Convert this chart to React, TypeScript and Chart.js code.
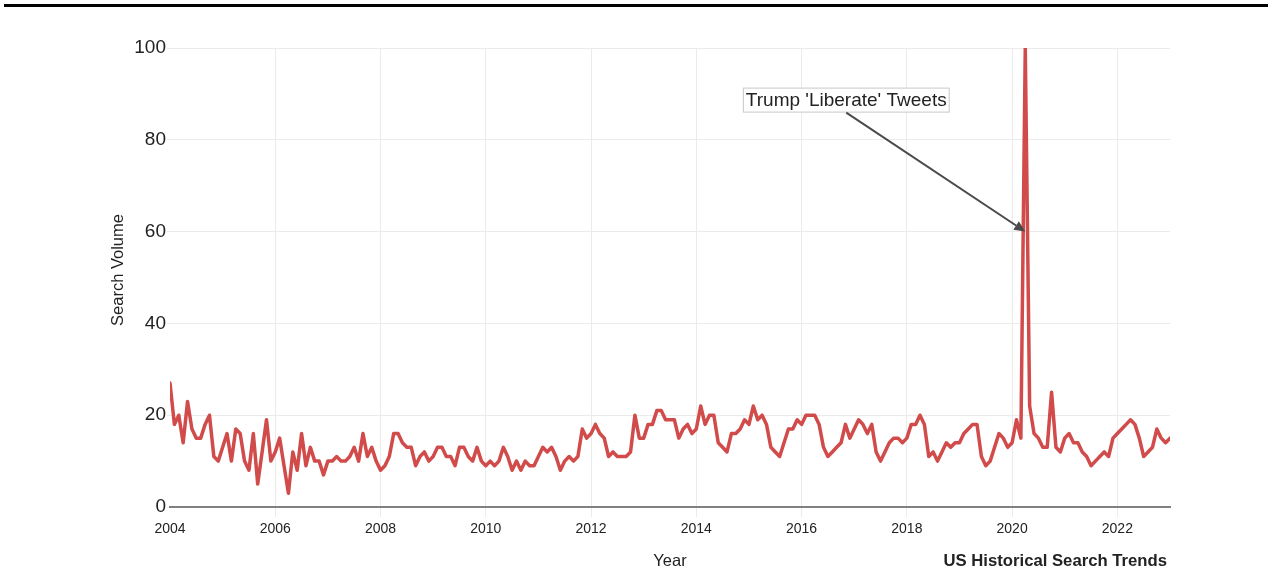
import React, { useEffect, useRef } from "react";
import { Chart, registerables } from "chart.js";

Chart.register(...registerables);

// ---- Data: monthly US search volume (Jan 2004 – Jan 2023) ----
const START_YEAR = 2004;
const vol2004 = [27, 18, 20, 14, 23, 17, 15, 15, 18, 20, 11, 10];
const vol2005 = [13, 16, 10, 17, 16, 10, 8, 16, 5, 12, 19, 10];
const vol2006 = [12, 15, 9, 3, 12, 8, 16, 9, 13, 10, 10, 7];
const vol2007 = [10, 10, 11, 10, 10, 11, 13, 10, 16, 11, 13, 10];
const vol2008 = [8, 9, 11, 16, 16, 14, 13, 13, 9, 11, 12, 10];
const vol2009 = [11, 13, 13, 11, 11, 9, 13, 13, 11, 10, 13, 10];
const vol2010 = [9, 10, 9, 10, 13, 11, 8, 10, 8, 10, 9, 9];
const vol2011 = [11, 13, 12, 13, 11, 8, 10, 11, 10, 11, 17, 15];
const vol2012 = [16, 18, 16, 15, 11, 12, 11, 11, 11, 12, 20, 15];
const vol2013 = [15, 18, 18, 21, 21, 19, 19, 19, 15, 17, 18, 16];
const vol2014 = [17, 22, 18, 20, 20, 14, 13, 12, 16, 16, 17, 19];
const vol2015 = [18, 22, 19, 20, 18, 13, 12, 11, 14, 17, 17, 19];
const vol2016 = [18, 20, 20, 20, 18, 13, 11, 12, 13, 14, 18, 15];
const vol2017 = [17, 19, 18, 16, 18, 12, 10, 12, 14, 15, 15, 14];
const vol2018 = [15, 18, 18, 20, 18, 11, 12, 10, 12, 14, 13, 14];
const vol2019 = [14, 16, 17, 18, 18, 11, 9, 10, 13, 16, 15, 13];
const vol2020 = [14, 19, 15, 100, 22, 16, 15, 13, 13, 25, 13, 12];
const vol2021 = [15, 16, 14, 14, 12, 11, 9, 10, 11, 12, 11, 15];
const vol2022 = [16, 17, 18, 19, 18, 15, 11, 12, 13, 17, 15, 14];
const vol2023 = [15];

const yearlyVolumes = [
  vol2004, vol2005, vol2006, vol2007, vol2008, vol2009, vol2010,
  vol2011, vol2012, vol2013, vol2014, vol2015, vol2016, vol2017,
  vol2018, vol2019, vol2020, vol2021, vol2022, vol2023,
];

const X_MIN = 2004;
const X_MAX = 2023;
const X_STEP = 2;
const Y_TICKS = [0, 20, 40, 60, 80, 100];

const ANNOTATION_TEXT = "Trump 'Liberate' Tweets";
const ANNOTATION_X = 2020.25;
const ANNOTATION_Y = 60;

const Y_TITLE = "Search Volume";
const X_TITLE = "Year";
const CAPTION = "US Historical Search Trends";

const FONT = '"Liberation Sans", Arial, Helvetica, sans-serif';
const LINE_COLOR = "#d14b4b";
const TEXT_COLOR = "#222222";
const GRID_COLOR = "#ebebeb";

const points = yearlyVolumes.flatMap((arr, yi) =>
  arr.map((v, mi) => ({ x: START_YEAR + yi + mi / 12, y: v }))
);

const textPlugin = {
  id: "extraTexts",
  beforeDraw(chart: any) {
    const { ctx, width, height } = chart;
    ctx.save();
    ctx.fillStyle = "#ffffff";
    ctx.fillRect(0, 0, width, height);
    ctx.fillStyle = "#000000";
    ctx.fillRect(4, 4, 1264, 3);
    ctx.restore();
  },
  afterDraw(chart: any) {
    const { ctx, chartArea, scales } = chart;
    const xs = scales.x;
    const ys = scales.y;
    ctx.save();
    ctx.fillStyle = TEXT_COLOR;

    // y title
    ctx.save();
    ctx.translate(118, 270);
    ctx.rotate(-Math.PI / 2);
    ctx.font = `16.5px ${FONT}`;
    ctx.textAlign = "center";
    ctx.textBaseline = "middle";
    ctx.fillText(Y_TITLE, 0, 0);
    ctx.restore();

    // x title
    ctx.font = `16.5px ${FONT}`;
    ctx.textAlign = "center";
    ctx.textBaseline = "middle";
    ctx.fillText(X_TITLE, (chartArea.left + chartArea.right) / 2, 561);

    // caption
    ctx.font = `bold 16.7px ${FONT}`;
    ctx.textAlign = "right";
    ctx.fillText(CAPTION, chartArea.right - 3, 561);

    // annotation
    const tipX = xs.getPixelForValue(ANNOTATION_X);
    const tipY = ys.getPixelForValue(ANNOTATION_Y);
    const cx = tipX - 179;
    const cy = tipY - 131.5;
    ctx.font = `19px ${FONT}`;
    const tw = ctx.measureText(ANNOTATION_TEXT).width;
    const bw = tw + 6;
    const bh = 25;
    ctx.fillStyle = "#ffffff";
    ctx.fillRect(cx - bw / 2, cy - bh / 2, bw, bh);
    ctx.strokeStyle = "#c8c8c8";
    ctx.lineWidth = 1;
    ctx.strokeRect(cx - bw / 2 + 0.5, cy - bh / 2 + 0.5, bw - 1, bh - 1);
    ctx.fillStyle = TEXT_COLOR;
    ctx.textAlign = "center";
    ctx.textBaseline = "middle";
    ctx.fillText(ANNOTATION_TEXT, cx, cy + 1);

    // arrow
    const sx = cx;
    const sy = cy + bh / 2;
    const ang = Math.atan2(tipY - sy, tipX - sx);
    const headLen = 11;
    const headW = 5;
    const bx = tipX - headLen * Math.cos(ang);
    const by = tipY - headLen * Math.sin(ang);
    ctx.strokeStyle = "#4a4a4a";
    ctx.lineWidth = 2;
    ctx.beginPath();
    ctx.moveTo(sx, sy);
    ctx.lineTo(bx, by);
    ctx.stroke();
    ctx.fillStyle = "#4a4a4a";
    ctx.beginPath();
    ctx.moveTo(tipX, tipY);
    ctx.lineTo(bx + headW * Math.sin(ang), by - headW * Math.cos(ang));
    ctx.lineTo(bx - headW * Math.sin(ang), by + headW * Math.cos(ang));
    ctx.closePath();
    ctx.fill();

    ctx.restore();
  },
};

export default function App() {
  const canvasRef = useRef<HTMLCanvasElement | null>(null);

  useEffect(() => {
    const canvas = canvasRef.current;
    if (!canvas) return;
    const chart = new Chart(canvas, {
      type: "line",
      data: {
        datasets: [
          {
            data: points,
            borderColor: LINE_COLOR,
            backgroundColor: LINE_COLOR,
            borderWidth: 3.5,
            pointRadius: 0,
            pointHoverRadius: 0,
            tension: 0,
            fill: false,
            borderJoinStyle: "round",
            borderCapStyle: "round",
          },
        ],
      },
      options: {
        responsive: false,
        animation: false,
        parsing: true,
        layout: { padding: { left: 0, right: 102, top: 48, bottom: 0 } },
        plugins: {
          legend: { display: false },
          tooltip: { enabled: false },
          title: { display: false },
        },
        scales: {
          x: {
            type: "linear",
            min: X_MIN,
            max: X_MAX,
            ticks: {
              stepSize: X_STEP,
              includeBounds: false,
              autoSkip: false,
              maxRotation: 0,
              callback: (v: any) => String(v),
              font: { size: 14, family: FONT },
              color: TEXT_COLOR,
              padding: 4,
            },
            grid: {
              color: (c: any) =>
                c.tick && c.tick.value === X_MIN ? "rgba(0,0,0,0)" : GRID_COLOR,
              tickColor: (c: any) =>
                c.tick && c.tick.value === X_MIN ? "rgba(0,0,0,0)" : GRID_COLOR,
              tickLength: 10,
              lineWidth: 1,
            },
            border: { display: true, color: "#808080", width: 2 },
            afterFit: (s: any) => {
              s.height = 74;
            },
          },
          y: {
            type: "linear",
            min: Y_TICKS[0],
            max: Y_TICKS[Y_TICKS.length - 1],
            afterBuildTicks: (s: any) => {
              s.ticks = Y_TICKS.map((v) => ({ value: v }));
            },
            ticks: {
              font: { size: 19, family: FONT },
              color: TEXT_COLOR,
              padding: 1,
            },
            grid: {
              color: GRID_COLOR,
              tickColor: GRID_COLOR,
              tickLength: 3,
              lineWidth: 1,
            },
            border: { display: false },
            afterFit: (s: any) => {
              s.width = 170;
            },
          },
        },
      },
      plugins: [textPlugin],
    });
    return () => chart.destroy();
  }, []);

  return (
    <div style={{ position: "fixed", left: 0, top: 0, width: 1272, height: 581, background: "#fff" }}>
      <canvas ref={canvasRef} width={1272} height={581} style={{ display: "block" }} />
    </div>
  );
}
